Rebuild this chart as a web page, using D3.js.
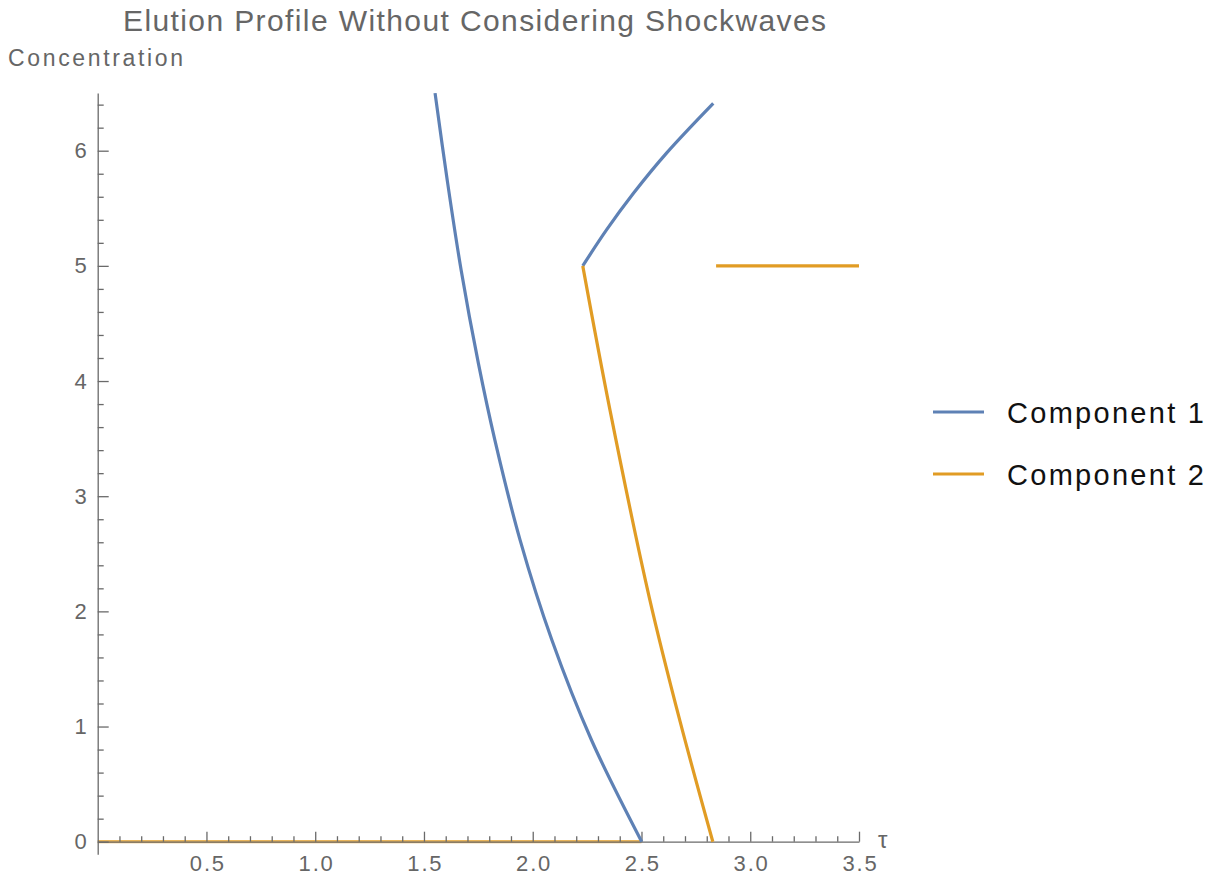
<!DOCTYPE html>
<html>
<head>
<meta charset="utf-8">
<script src="https://cdn.jsdelivr.net/npm/d3@7/dist/d3.min.js"></script>
<style>
  html, body { margin: 0; padding: 0; background: #fff; }
  svg { display: block; }
  text { font-family: "Liberation Sans", Arial, sans-serif; }
</style>
</head>
<body>
<svg id="chart" width="1219" height="879"></svg>
<script>
// Component 1: falling diffuse branch (tau, concentration)
const comp1FallTau  = [1.551, 1.607, 1.671, 1.750, 1.826, 1.942, 2.088, 2.270, 2.501];
const comp1FallConc = [6.50, 5.743, 4.962, 4.155, 3.487, 2.619, 1.751, 0.883, 0.0];
// Component 1: rising branch after the peak of component 2
const comp1RiseTau  = [2.230, 2.340, 2.463, 2.616, 2.830];
const comp1RiseConc = [5.0, 5.314, 5.630, 5.981, 6.411];
// Component 2: baseline, front and plateau
const comp2BaseTau  = [0, 2.5];
const comp2BaseConc = [0, 0];
const comp2FrontTau  = [2.230, 2.355, 2.536, 2.678, 2.828];
const comp2FrontConc = [5.0, 3.75, 2.12, 1.04, 0.0];
const comp2PlateauTau  = [2.843, 3.5];
const comp2PlateauConc = [5.0, 5.0];

const xMajorTicks = [0.5, 1.0, 1.5, 2.0, 2.5, 3.0, 3.5];
const yMajorTicks = [0, 1, 2, 3, 4, 5, 6];
const seriesNames = ["Component 1", "Component 2"];
const seriesColors = ["#5E81B5", "#E19C24"];

const titleText = "Elution Profile Without Considering Shockwaves";
const yAxisLabel = "Concentration";
const xAxisLabel = "\u03C4";

const svg = d3.select("#chart");

const x = d3.scaleLinear().domain([0, 3.5]).range([97.7, 859]);
const y = d3.scaleLinear().domain([0, 6]).range([841.7, 150.7]);
const yLow = -0.11, yHigh = 6.5;

const axisColor = "#6a6a6a";
const labelColor = "#666";

// stretch text horizontally by adding spacing
function widen(sel, factor) {
  sel.each(function () {
    const w = this.getComputedTextLength();
    d3.select(this).attr("textLength", w * factor).attr("lengthAdjust", "spacing");
  });
}

const zipPts = (a, b) => a.map((v, i) => [v, b[i]]);
const line = d3.line().x(d => x(d[0])).y(d => y(d[1]));

// Baseline of component 2 sits under the axis line
svg.append("path")
  .datum(zipPts(comp2BaseTau, comp2BaseConc))
  .attr("d", line)
  .attr("fill", "none")
  .attr("stroke", seriesColors[1])
  .attr("stroke-width", 3.2)
  .attr("stroke-opacity", 0.75);

// X axis: major and minor ticks pointing up
const xMinor = d3.range(1, 36).map(i => i / 10).filter(v => Math.abs(v * 2 - Math.round(v * 2)) > 1e-6);
const xAxisG = svg.append("g").attr("transform", `translate(0,${y(0)})`);
xAxisG.call(d3.axisBottom(x).tickValues(xMajorTicks).tickFormat(d3.format(".1f"))
  .tickSizeInner(-10).tickSizeOuter(0).tickPadding(14));
xAxisG.append("g").call(d3.axisBottom(x).tickValues(xMinor).tickFormat("")
  .tickSizeInner(-5.5).tickSizeOuter(0))
  .select(".domain").remove();

// Y axis: major and minor ticks pointing right
const yFull = d3.scaleLinear().domain([yLow, yHigh]).range([y(yLow), y(yHigh)]);
const yMinor = d3.range(1, 33).map(i => +(i * 0.2).toFixed(1)).filter(v => Math.abs(v - Math.round(v)) > 1e-6);
const yAxisG = svg.append("g").attr("transform", `translate(${x(0)},0)`);
yAxisG.call(d3.axisLeft(yFull).tickValues(yMajorTicks).tickFormat(d3.format("d"))
  .tickSizeInner(-11).tickSizeOuter(0).tickPadding(11));
yAxisG.append("g").call(d3.axisLeft(yFull).tickValues(yMinor).tickFormat("")
  .tickSizeInner(-6).tickSizeOuter(0))
  .select(".domain").remove();

svg.selectAll(".domain, .tick line")
  .attr("stroke", axisColor)
  .attr("stroke-width", 1.3);
svg.selectAll(".tick text")
  .attr("fill", labelColor)
  .style("font-size", "22px")
  .style("font-family", "Liberation Sans, Arial, sans-serif");
widen(xAxisG.selectAll(".tick text"), 1.12);
widen(yAxisG.selectAll(".tick text"), 1.1);

// Curves
const smooth = d3.line().x(d => x(d[0])).y(d => y(d[1])).curve(d3.curveCatmullRom.alpha(0.5));
const series = [
  { pts: zipPts(comp1FallTau, comp1FallConc), color: seriesColors[0] },
  { pts: zipPts(comp1RiseTau, comp1RiseConc), color: seriesColors[0] },
  { pts: zipPts(comp2FrontTau, comp2FrontConc), color: seriesColors[1] },
  { pts: zipPts(comp2PlateauTau, comp2PlateauConc), color: seriesColors[1] }
];
svg.append("g").selectAll("path")
  .data(series)
  .join("path")
  .attr("d", d => smooth(d.pts))
  .attr("fill", "none")
  .attr("stroke", d => d.color)
  .attr("stroke-width", 3.2)
  .attr("stroke-linejoin", "round");

// Title and axis labels
svg.append("text")
  .attr("x", 123).attr("y", 31)
  .attr("fill", "#666")
  .style("font-size", "30px")
  .attr("textLength", 703).attr("lengthAdjust", "spacing")
  .text(titleText);

svg.append("text")
  .attr("x", 8).attr("y", 66)
  .attr("fill", "#666")
  .style("font-size", "23px")
  .attr("textLength", 175).attr("lengthAdjust", "spacing")
  .text(yAxisLabel);

svg.append("text")
  .attr("x", 878).attr("y", 848)
  .attr("fill", "#666")
  .style("font-size", "24px")
  .text(xAxisLabel);

// Legend
const legend = svg.append("g");
const legendRows = legend.selectAll("g")
  .data(seriesNames)
  .join("g")
  .attr("transform", (d, i) => `translate(0,${412 + i * 62})`);
legendRows.append("line")
  .attr("x1", 933).attr("x2", 984)
  .attr("y1", 0).attr("y2", 0)
  .attr("stroke", (d, i) => seriesColors[i])
  .attr("stroke-width", 3.2);
legendRows.append("text")
  .attr("x", 1007).attr("y", 11)
  .attr("fill", "#111")
  .style("font-size", "29px")
  .attr("textLength", 197).attr("lengthAdjust", "spacing")
  .text(d => d);
</script>
</body>
</html>
